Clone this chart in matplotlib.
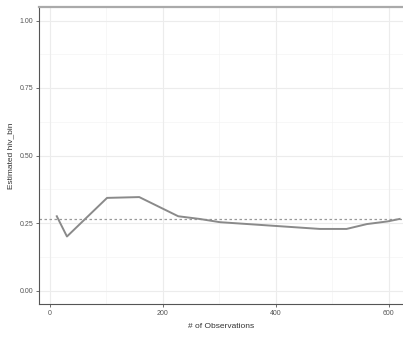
import matplotlib.pyplot as plt

plt.rcParams['font.family'] = ['Liberation Sans', 'DejaVu Sans']

# values
n_obs = [12, 30, 101, 158, 227, 265, 301, 478, 525, 561, 598, 619]
est_hiv = [0.275, 0.200, 0.343, 0.346, 0.275, 0.265, 0.253, 0.228, 0.228, 0.246, 0.256, 0.265]
ref_level = 0.264

x_ticks = [0, 200, 400, 600]
y_ticks = [0.00, 0.25, 0.50, 0.75, 1.00]
y_tick_labels = ['0.00', '0.25', '0.50', '0.75', '1.00']

fig = plt.figure(figsize=(4.03, 3.44), dpi=100)
ax = fig.add_axes([39 / 403, 1 - 304 / 344, 1 - 39 / 403, (304 - 7) / 344])

# minor grid like ggplot theme_bw
for y in [0.125, 0.375, 0.625, 0.875]:
    ax.axhline(y, color='#f4f4f4', linewidth=0.5, zorder=0)
for x in [100, 300, 500]:
    ax.axvline(x, color='#f4f4f4', linewidth=0.5, zorder=0)
for y in y_ticks:
    ax.axhline(y, color='#ececec', linewidth=0.8, zorder=0)
for x in x_ticks:
    ax.axvline(x, color='#ececec', linewidth=0.8, zorder=0)

ax.axhline(ref_level, color='#999999', linewidth=0.9, linestyle=(0, (2, 2)), zorder=1)
ax.plot(n_obs, est_hiv, color='#8a8a8a', linewidth=1.4, zorder=2)

ax.set_xlim(-19.5, 625)
ax.set_ylim(-0.05, 1.05)
ax.set_xticks(x_ticks)
ax.set_yticks(y_ticks)
ax.set_yticklabels(y_tick_labels)
ax.tick_params(labelsize=5, colors='#555555', length=2, width=0.6, pad=2)

ax.spines['left'].set_color('#555555')
ax.spines['bottom'].set_color('#555555')
ax.spines['left'].set_linewidth(0.8)
ax.spines['bottom'].set_linewidth(0.8)
ax.spines['top'].set_color('#aaaaaa')
ax.spines['top'].set_linewidth(1.6)
ax.spines['right'].set_visible(False)

ax.set_xlabel('# of Observations', fontsize=6, color='#333333', labelpad=5)
ax.set_ylabel('Estimated hiv_bin', fontsize=6, color='#333333', labelpad=4)

fig.savefig('out.png', dpi=100)
